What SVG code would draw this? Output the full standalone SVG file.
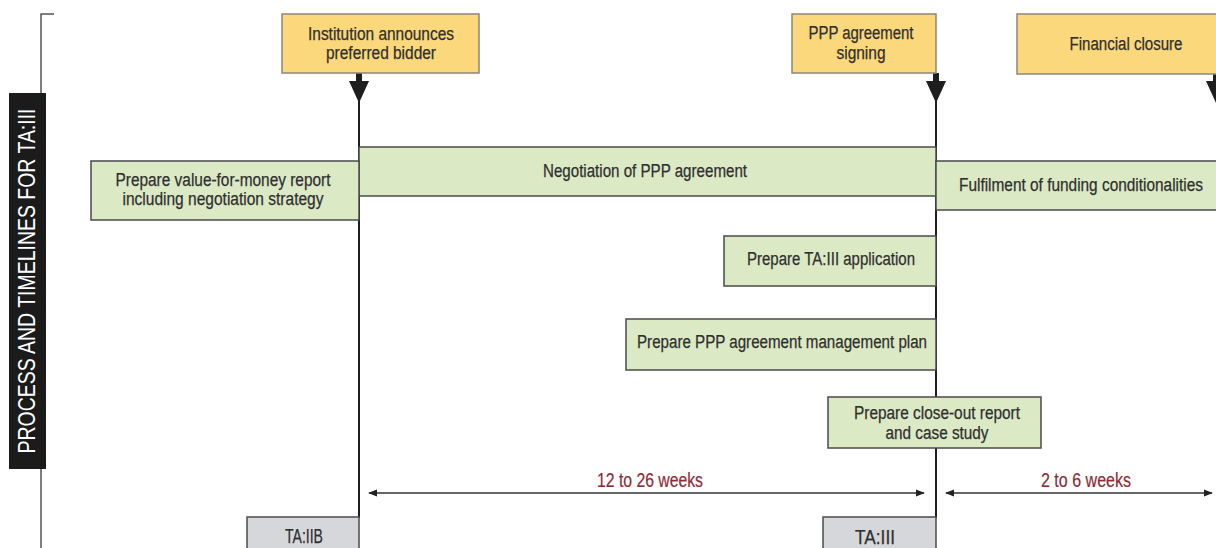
<svg xmlns="http://www.w3.org/2000/svg" width="1216" height="548" viewBox="0 0 1216 548">
<defs>
<style>
.t{font-family:"Liberation Sans",Arial,sans-serif;font-size:18px;fill:#2f2f2f;stroke:#2f2f2f;stroke-width:0.25;text-anchor:middle}
.ms{fill:#fcd87c;stroke:#8c8778;stroke-width:1.5}
.task{fill:#dce9c5;stroke:#4a4a4a;stroke-width:1.5}
.ta{fill:#d6d7da;stroke:#4a4a4a;stroke-width:1.5}
.vl{stroke:#1e1e1e;stroke-width:2;fill:none}
.dur{stroke:#333;stroke-width:1.5;fill:none}
.dl{font-family:"Liberation Sans",Arial,sans-serif;font-size:20px;fill:#8b2a36;stroke:#8b2a36;stroke-width:0.2;text-anchor:middle}
.side{font-family:"Liberation Sans",Arial,sans-serif;font-size:23px;fill:#ffffff;text-anchor:middle}
</style>
<marker id="ah" viewBox="0 0 10 10" refX="9" refY="5" markerWidth="9" markerHeight="9" markerUnits="userSpaceOnUse" orient="auto-start-reverse">
<path d="M0,1 L10,5 L0,9 z" fill="#222"/>
</marker>
</defs>
<rect width="1216" height="548" fill="#fff"/>

<g id="side-label">
<path d="M54,14 H41 V548" stroke="#555" stroke-width="1.5" fill="none"/>
<rect x="9" y="93" width="37" height="376" fill="#1b1b1b"/>
<text class="side" transform="translate(35,281) rotate(-90)" textLength="345" lengthAdjust="spacingAndGlyphs">PROCESS AND TIMELINES FOR TA:III</text>
</g>

<g id="connectors">
<line class="vl" x1="359" y1="73" x2="359" y2="518"/>
<line class="vl" x1="936" y1="73" x2="936" y2="518"/>
<path d="M356,73 h6 v8 h7 l-10,22 l-10,-22 h7 z" fill="#1e1e1e"/>
<path d="M933,73 h6 v8 h7 l-10,22 l-10,-22 h7 z" fill="#1e1e1e"/>
<path d="M1213,73 h6 v8 h7 l-10,22 l-10,-22 h7 z" fill="#1e1e1e"/>
<line class="dur" x1="369" y1="493" x2="924" y2="493" marker-start="url(#ah)" marker-end="url(#ah)"/>
<line class="dur" x1="946" y1="493" x2="1212" y2="493" marker-start="url(#ah)" marker-end="url(#ah)"/>
</g>

<g id="m1">
<rect class="ms" x="282" y="14" width="197" height="59"/>
<text class="t" x="381" y="40" textLength="146" lengthAdjust="spacingAndGlyphs">Institution announces</text>
<text class="t" x="381" y="59" textLength="110" lengthAdjust="spacingAndGlyphs">preferred bidder</text>
</g>
<g id="m2">
<rect class="ms" x="792" y="14" width="144" height="59"/>
<text class="t" x="861" y="39" textLength="105" lengthAdjust="spacingAndGlyphs">PPP agreement</text>
<text class="t" x="861" y="59" textLength="49" lengthAdjust="spacingAndGlyphs">signing</text>
</g>
<g id="m3">
<rect class="ms" x="1017" y="14" width="205" height="60"/>
<text class="t" x="1126" y="50" textLength="113" lengthAdjust="spacingAndGlyphs">Financial closure</text>
</g>

<g id="negotiation">
<rect class="task" x="359" y="147" width="577" height="49"/>
<text class="t" x="645" y="177" textLength="204" lengthAdjust="spacingAndGlyphs">Negotiation of PPP agreement</text>
</g>
<g id="vfm">
<rect class="task" x="91" y="161" width="268" height="59"/>
<text class="t" x="223" y="186" textLength="215" lengthAdjust="spacingAndGlyphs">Prepare value-for-money report</text>
<text class="t" x="223" y="205" textLength="201" lengthAdjust="spacingAndGlyphs">including negotiation strategy</text>
</g>
<g id="fulfilment">
<rect class="task" x="936" y="161" width="286" height="49"/>
<text class="t" x="1081" y="191" textLength="244" lengthAdjust="spacingAndGlyphs">Fulfilment of funding conditionalities</text>
</g>
<g id="ta3app">
<rect class="task" x="724" y="236" width="212" height="50"/>
<text class="t" x="831" y="265" textLength="168" lengthAdjust="spacingAndGlyphs">Prepare TA:III application</text>
</g>
<g id="mgmtplan">
<rect class="task" x="626" y="319" width="310" height="51"/>
<text class="t" x="782" y="348" textLength="290" lengthAdjust="spacingAndGlyphs">Prepare PPP agreement management plan</text>
</g>
<g id="closeout">
<rect class="task" x="828" y="397" width="213" height="51"/>
<text class="t" x="937" y="419" textLength="166" lengthAdjust="spacingAndGlyphs">Prepare close-out report</text>
<text class="t" x="937" y="439" textLength="103" lengthAdjust="spacingAndGlyphs">and case study</text>
</g>

<g id="dur1"><text class="dl" x="650" y="487" textLength="106" lengthAdjust="spacingAndGlyphs">12 to 26 weeks</text></g>
<g id="dur2"><text class="dl" x="1086" y="487" textLength="90" lengthAdjust="spacingAndGlyphs">2 to 6 weeks</text></g>

<g id="ta2b">
<rect class="ta" x="247" y="517" width="112" height="40"/>
<text class="t" x="304" y="543" style="font-size:20px" textLength="38" lengthAdjust="spacingAndGlyphs">TA:IIB</text>
</g>
<g id="ta3">
<rect class="ta" x="823" y="517" width="113" height="40"/>
<text class="t" x="875" y="544" style="font-size:20px" textLength="40" lengthAdjust="spacingAndGlyphs">TA:III</text>
</g>
</svg>
